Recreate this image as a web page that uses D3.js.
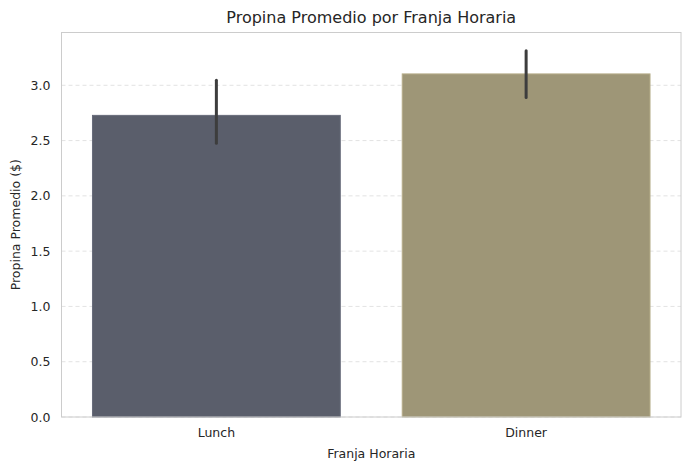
<!DOCTYPE html>
<html>
<head>
<meta charset="utf-8">
<script src="https://cdn.jsdelivr.net/npm/d3@7"></script>
<style>
  body { margin: 0; background: #fff; }
  svg text { font-family: "DejaVu Sans", sans-serif; fill: #262626; }
</style>
</head>
<body>
<div id="chart"></div>
<script>
// data
let categories = ['Lunch', 'Dinner'];
let means = [2.728, 3.103];
let ciLow = [2.475, 2.89];
let ciHigh = [3.045, 3.312];
let colors = ['#5a5e6b', '#9e9677'];
let yTicks = [0, 0.5, 1.0, 1.5, 2.0, 2.5, 3.0];

let width = 691,
    height = 470,
    margin = { top: 32.5, right: 10, bottom: 53, left: 61.5 };

let svg = d3.select('#chart').append('svg')
    .attr('width', width)
    .attr('height', height);

let innerW = width - margin.left - margin.right,
    innerH = height - margin.top - margin.bottom;

let g = svg.append('g').attr('transform', 'translate(' + margin.left + ',' + margin.top + ')');

let x = d3.scaleBand().domain(categories).range([0, innerW]).paddingInner(0.2).paddingOuter(0.1);
let y = d3.scaleLinear().domain([0, 3.312 * 1.05]).range([innerH, 0]);

// grid
g.append('g').selectAll('line')
    .data(yTicks)
    .enter().append('line')
    .attr('x1', 0).attr('x2', innerW)
    .attr('y1', d => y(d)).attr('y2', d => y(d))
    .style('stroke', '#dadada')
    .style('stroke-width', 0.8)
    .style('stroke-dasharray', '4,3');

// bars
g.append('g').selectAll('rect')
    .data(categories)
    .enter().append('rect')
    .attr('x', d => x(d))
    .attr('width', x.bandwidth())
    .attr('y', (d, i) => y(means[i]))
    .attr('height', (d, i) => innerH - y(means[i]))
    .style('fill', (d, i) => colors[i])
    .style('stroke', (d, i) => d3.color(colors[i]).brighter(0.4))
    .style('stroke-width', 1);

// error bars
g.append('g').selectAll('line')
    .data(categories)
    .enter().append('line')
    .attr('x1', d => x(d) + x.bandwidth() / 2)
    .attr('x2', d => x(d) + x.bandwidth() / 2)
    .attr('y1', (d, i) => y(ciLow[i]))
    .attr('y2', (d, i) => y(ciHigh[i]))
    .style('stroke', '#3d3d3d')
    .style('stroke-width', 3)
    .style('stroke-linecap', 'round');

// frame
g.append('rect')
    .attr('width', innerW).attr('height', innerH)
    .style('fill', 'none')
    .style('stroke', '#cccccc')
    .style('stroke-width', 1);

// axes
let yAxis = g.append('g')
    .call(d3.axisLeft(y).tickValues(yTicks).tickFormat(d3.format('.1f')).tickSize(0).tickPadding(11));
yAxis.select('.domain').remove();
yAxis.selectAll('text').style('font-size', '12.5px').style('fill', '#262626');

let xAxis = g.append('g')
    .attr('transform', 'translate(0,' + innerH + ')')
    .call(d3.axisBottom(x).tickSize(0).tickPadding(11));
xAxis.select('.domain').remove();
xAxis.selectAll('text').style('font-size', '12.5px').style('fill', '#262626');

// labels
svg.append('text')
    .attr('x', margin.left + innerW / 2)
    .attr('y', 23)
    .attr('text-anchor', 'middle')
    .style('font-size', '16px')
    .text('Propina Promedio por Franja Horaria');

svg.append('text')
    .attr('x', margin.left + innerW / 2)
    .attr('y', 458)
    .attr('text-anchor', 'middle')
    .style('font-size', '12.5px')
    .text('Franja Horaria');

svg.append('text')
    .attr('transform', 'translate(20,' + (margin.top + innerH / 2) + ') rotate(-90)')
    .attr('text-anchor', 'middle')
    .style('font-size', '12.5px')
    .text('Propina Promedio ($)');
</script>
</body>
</html>
